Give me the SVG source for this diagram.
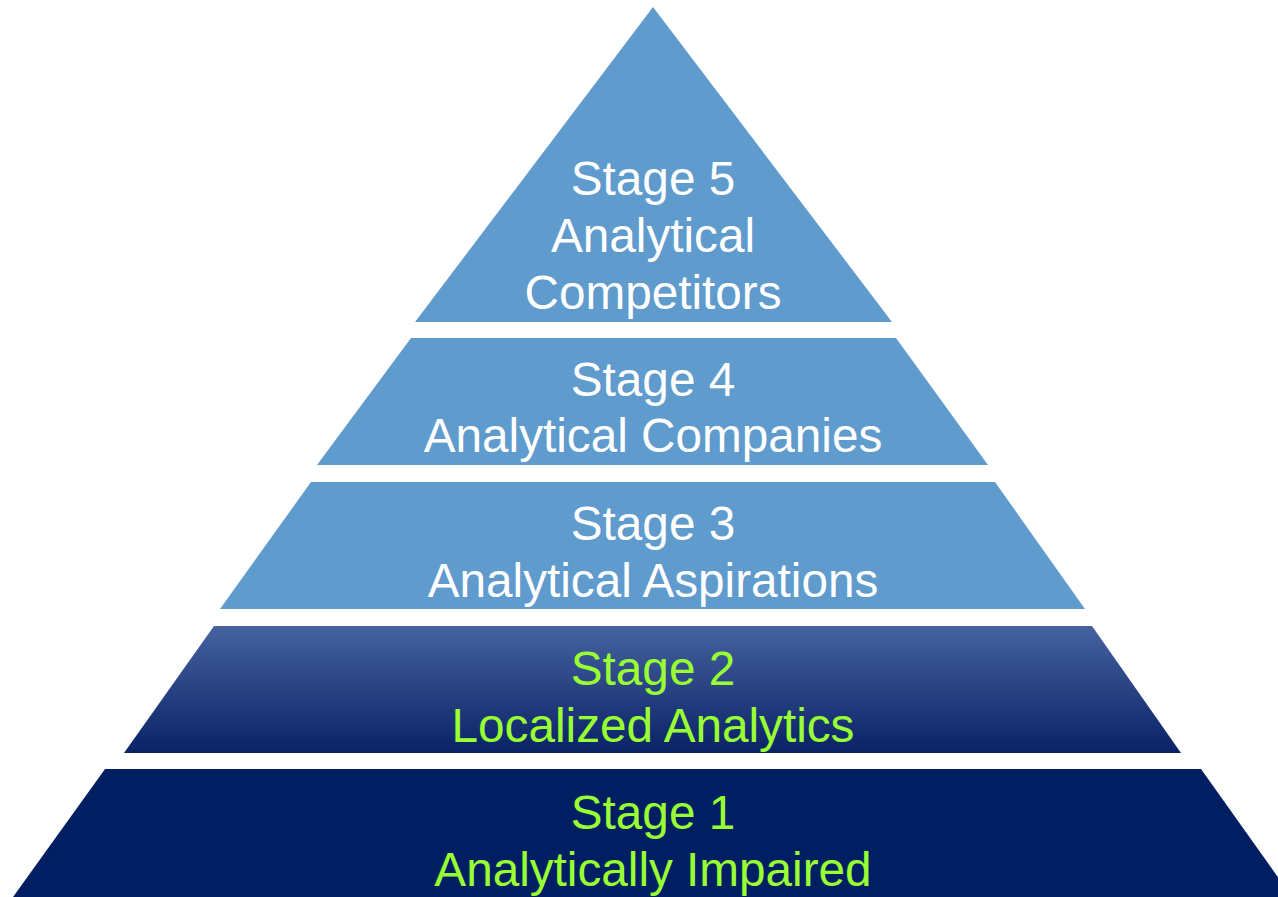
<svg xmlns="http://www.w3.org/2000/svg" width="1278" height="897" viewBox="0 0 1278 897">
<defs>
<linearGradient id="g2" x1="0" y1="0" x2="0" y2="1">
<stop offset="0" stop-color="#46629F"/>
<stop offset="1" stop-color="#0A2266"/>
</linearGradient>
<style>
.light{fill:#5F9BCC}
.dark{fill:#001E62}
text{font-family:"Liberation Sans",Arial,sans-serif;font-size:47.7px;text-anchor:middle}
.w{fill:#FFFFFF}
.g{fill:#99FF33}
</style>
</defs>
<rect width="1278" height="897" fill="#FFFFFF"/>
<g id="stage5">
<polygon class="light" points="653,7 892,322 415,322"/>
<text class="w" x="653" y="195">Stage 5</text>
<text class="w" x="653" y="252">Analytical</text>
<text class="w" x="653" y="309">Competitors</text>
</g>
<g id="stage4">
<polygon class="light" points="411,338 896,338 988,465 317,465"/>
<text class="w" x="653" y="396">Stage 4</text>
<text class="w" x="653" y="452">Analytical Companies</text>
</g>
<g id="stage3">
<polygon class="light" points="311,482 995,482 1085,609 220,609"/>
<text class="w" x="653" y="540">Stage 3</text>
<text class="w" x="653" y="597">Analytical Aspirations</text>
</g>
<g id="stage2">
<polygon fill="url(#g2)" points="214,626 1092,626 1181,753 124,753"/>
<text class="g" x="653" y="685">Stage 2</text>
<text class="g" x="653" y="742">Localized Analytics</text>
</g>
<g id="stage1">
<polygon class="dark" points="105,769 1201,769 1292,897 13,897"/>
<text class="g" x="653" y="829">Stage 1</text>
<text class="g" x="653" y="886">Analytically Impaired</text>
</g>
<g id="connectors"/>
</svg>
